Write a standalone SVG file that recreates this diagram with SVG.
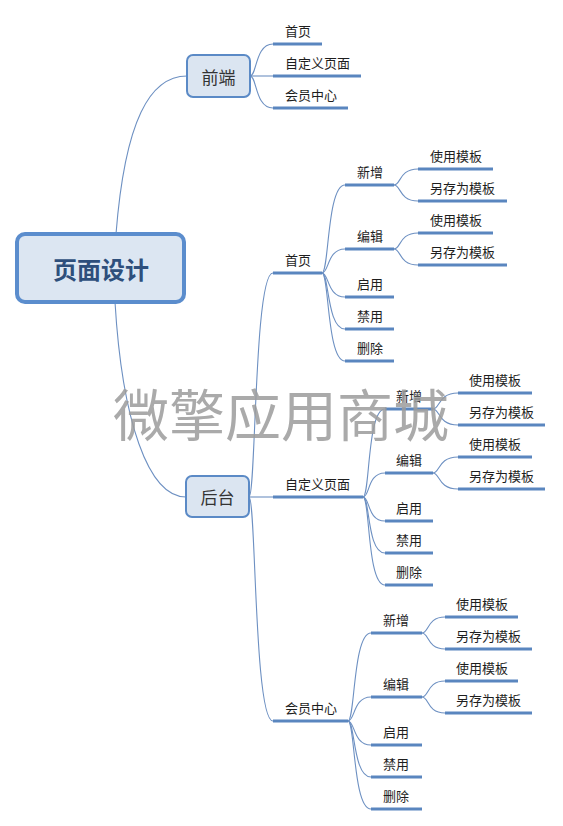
<svg xmlns="http://www.w3.org/2000/svg" width="563" height="826" viewBox="0 0 563 826">
<style>
.c{fill:none;stroke:#6d90c2;stroke-width:1.1}
.ul{stroke:#5a86bf;stroke-width:3}
.t{font-family:"Noto Sans CJK SC","Microsoft YaHei",sans-serif;font-size:13px;fill:#1e1e1e}
.box{fill:#dbe5f1;stroke:#5b8ac6;stroke-width:2}
.bt{font-family:"Noto Sans CJK SC",sans-serif;font-size:17px;fill:#333;text-anchor:middle;dominant-baseline:central}
.wm{font-family:"Noto Sans CJK SC",sans-serif;font-size:56px;fill:#9c9c9c;opacity:0.85;text-anchor:middle;dominant-baseline:central}
</style>
<rect width="563" height="826" fill="#ffffff"/>
<g id="connectors">
<path class="c" d="M116,234 C125,120 150,76 187,76"/>
<path class="c" d="M115,302 C122,420 148,497 186,497"/>
<path class="c" d="M250,76 C257,76 255,44 273,44"/>
<path class="c" d="M250,76 L273,76"/>
<path class="c" d="M250,76 C257,76 255,108 273,108"/>
<path class="c" d="M249,497 C256,497 254,273 273,273"/>
<path class="c" d="M249,497 L273,497"/>
<path class="c" d="M249,497 C256,497 254,721 273,721"/>
<path class="c" d="M322,273 C329,273 327,185 345,185"/>
<path class="c" d="M322,273 C329,273 327,249 345,249"/>
<path class="c" d="M322,273 C329,273 327,297 345,297"/>
<path class="c" d="M322,273 C329,273 327,329 345,329"/>
<path class="c" d="M322,273 C329,273 327,361 345,361"/>
<path class="c" d="M394,185 C401,185 399,169 418,169"/>
<path class="c" d="M394,185 C401,185 399,201 418,201"/>
<path class="c" d="M394,249 C401,249 399,233 418,233"/>
<path class="c" d="M394,249 C401,249 399,265 418,265"/>
<path class="c" d="M363,497 C370,497 367,409 385,409"/>
<path class="c" d="M363,497 C370,497 367,473 385,473"/>
<path class="c" d="M363,497 C370,497 367,521 385,521"/>
<path class="c" d="M363,497 C370,497 367,553 385,553"/>
<path class="c" d="M363,497 C370,497 367,585 385,585"/>
<path class="c" d="M433,409 C440,409 438,393 458,393"/>
<path class="c" d="M433,409 C440,409 438,425 458,425"/>
<path class="c" d="M433,473 C440,473 438,457 458,457"/>
<path class="c" d="M433,473 C440,473 438,489 458,489"/>
<path class="c" d="M348,721 C355,721 353,633 371,633"/>
<path class="c" d="M348,721 C355,721 353,697 371,697"/>
<path class="c" d="M348,721 C355,721 353,745 371,745"/>
<path class="c" d="M348,721 C355,721 353,777 371,777"/>
<path class="c" d="M348,721 C355,721 353,809 371,809"/>
<path class="c" d="M422,633 C429,633 427,617 445,617"/>
<path class="c" d="M422,633 C429,633 427,649 445,649"/>
<path class="c" d="M422,697 C429,697 427,681 445,681"/>
<path class="c" d="M422,697 C429,697 427,713 445,713"/>
</g>
<g id="root">
<rect x="17" y="234" width="167" height="68" rx="8" fill="#dce6f2" stroke="#5b8dcd" stroke-width="4"/>
<text x="101" y="268" font-family="'Noto Sans CJK SC',sans-serif" font-size="24" font-weight="bold" fill="#2e4f7c" text-anchor="middle" dominant-baseline="central">页面设计</text>
</g>
<g id="qianduan">
<rect class="box" x="187" y="55" width="63" height="42" rx="6"/>
<text class="bt" x="218.5" y="76">前端</text>
</g>
<g id="qd-shouye"><line class="ul" x1="273" y1="44" x2="322" y2="44"/><text class="t" x="285" y="36">首页</text></g>
<g id="qd-zidingyi"><line class="ul" x1="273" y1="76" x2="361" y2="76"/><text class="t" x="285" y="68">自定义页面</text></g>
<g id="qd-huiyuan"><line class="ul" x1="273" y1="108" x2="348" y2="108"/><text class="t" x="285" y="100">会员中心</text></g>
<g id="houtai">
<rect class="box" x="186" y="476" width="63" height="41" rx="6"/>
<text class="bt" x="217.5" y="496.5">后台</text>
</g>
<g id="ht-shouye"><line class="ul" x1="273" y1="273" x2="322" y2="273"/><text class="t" x="285" y="265">首页</text></g>
<g id="ht-zidingyi"><line class="ul" x1="273" y1="497" x2="363" y2="497"/><text class="t" x="285" y="489">自定义页面</text></g>
<g id="ht-huiyuan"><line class="ul" x1="273" y1="721" x2="348" y2="721"/><text class="t" x="285" y="713">会员中心</text></g>
<g id="sy-xinzeng"><line class="ul" x1="345" y1="185" x2="394" y2="185"/><text class="t" x="357" y="177">新增</text></g>
<g id="sy-bianji"><line class="ul" x1="345" y1="249" x2="394" y2="249"/><text class="t" x="357" y="241">编辑</text></g>
<g id="sy-qiyong"><line class="ul" x1="345" y1="297" x2="394" y2="297"/><text class="t" x="357" y="289">启用</text></g>
<g id="sy-jinyong"><line class="ul" x1="345" y1="329" x2="394" y2="329"/><text class="t" x="357" y="321">禁用</text></g>
<g id="sy-shanchu"><line class="ul" x1="345" y1="361" x2="394" y2="361"/><text class="t" x="357" y="353">删除</text></g>
<g id="sy-xz-shiyong"><line class="ul" x1="418" y1="169" x2="493" y2="169"/><text class="t" x="430" y="161">使用模板</text></g>
<g id="sy-xz-lingcun"><line class="ul" x1="418" y1="201" x2="507" y2="201"/><text class="t" x="430" y="193">另存为模板</text></g>
<g id="sy-bj-shiyong"><line class="ul" x1="418" y1="233" x2="493" y2="233"/><text class="t" x="430" y="225">使用模板</text></g>
<g id="sy-bj-lingcun"><line class="ul" x1="418" y1="265" x2="507" y2="265"/><text class="t" x="430" y="257">另存为模板</text></g>
<g id="zd-xinzeng"><line class="ul" x1="385" y1="409" x2="433" y2="409"/><text class="t" x="396" y="401">新增</text></g>
<g id="zd-bianji"><line class="ul" x1="385" y1="473" x2="433" y2="473"/><text class="t" x="396" y="465">编辑</text></g>
<g id="zd-qiyong"><line class="ul" x1="385" y1="521" x2="433" y2="521"/><text class="t" x="396" y="513">启用</text></g>
<g id="zd-jinyong"><line class="ul" x1="385" y1="553" x2="433" y2="553"/><text class="t" x="396" y="545">禁用</text></g>
<g id="zd-shanchu"><line class="ul" x1="385" y1="585" x2="433" y2="585"/><text class="t" x="396" y="577">删除</text></g>
<g id="zd-xz-shiyong"><line class="ul" x1="458" y1="393" x2="532" y2="393"/><text class="t" x="469" y="385">使用模板</text></g>
<g id="zd-xz-lingcun"><line class="ul" x1="458" y1="425" x2="545" y2="425"/><text class="t" x="469" y="417">另存为模板</text></g>
<g id="zd-bj-shiyong"><line class="ul" x1="458" y1="457" x2="532" y2="457"/><text class="t" x="469" y="449">使用模板</text></g>
<g id="zd-bj-lingcun"><line class="ul" x1="458" y1="489" x2="545" y2="489"/><text class="t" x="469" y="481">另存为模板</text></g>
<g id="hy-xinzeng"><line class="ul" x1="371" y1="633" x2="422" y2="633"/><text class="t" x="383" y="625">新增</text></g>
<g id="hy-bianji"><line class="ul" x1="371" y1="697" x2="422" y2="697"/><text class="t" x="383" y="689">编辑</text></g>
<g id="hy-qiyong"><line class="ul" x1="371" y1="745" x2="422" y2="745"/><text class="t" x="383" y="737">启用</text></g>
<g id="hy-jinyong"><line class="ul" x1="371" y1="777" x2="422" y2="777"/><text class="t" x="383" y="769">禁用</text></g>
<g id="hy-shanchu"><line class="ul" x1="371" y1="809" x2="422" y2="809"/><text class="t" x="383" y="801">删除</text></g>
<g id="hy-xz-shiyong"><line class="ul" x1="445" y1="617" x2="518" y2="617"/><text class="t" x="456" y="609">使用模板</text></g>
<g id="hy-xz-lingcun"><line class="ul" x1="445" y1="649" x2="532" y2="649"/><text class="t" x="456" y="641">另存为模板</text></g>
<g id="hy-bj-shiyong"><line class="ul" x1="445" y1="681" x2="518" y2="681"/><text class="t" x="456" y="673">使用模板</text></g>
<g id="hy-bj-lingcun"><line class="ul" x1="445" y1="713" x2="532" y2="713"/><text class="t" x="456" y="705">另存为模板</text></g>
<g id="watermark"><text class="wm" x="281" y="411">微擎应用商城</text></g>
</svg>
